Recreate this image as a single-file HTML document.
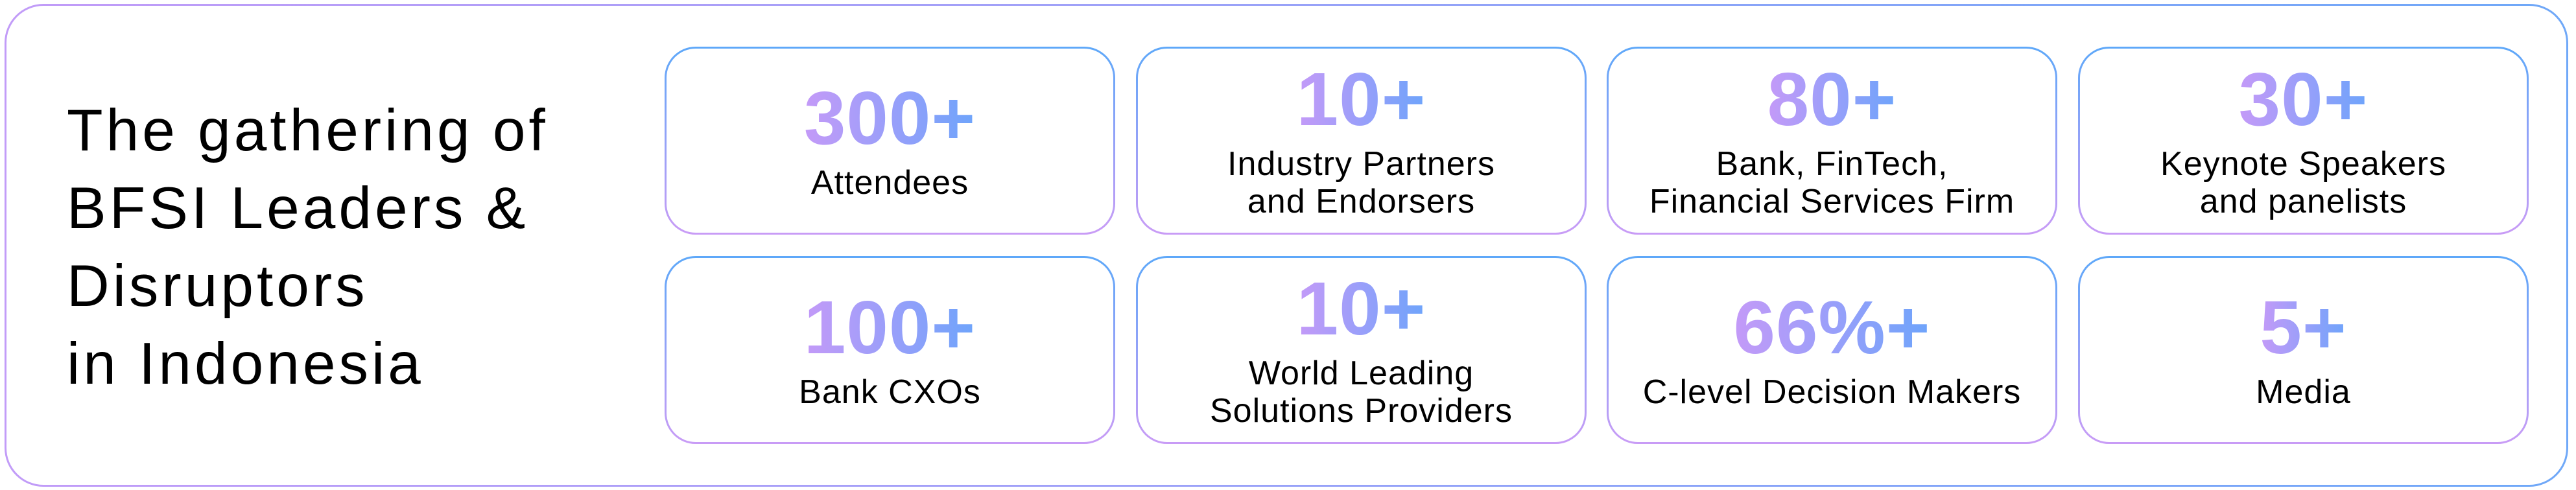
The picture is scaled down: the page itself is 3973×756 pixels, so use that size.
<!DOCTYPE html>
<html><head><meta charset="utf-8"><style>
*{margin:0;padding:0;box-sizing:border-box}
html,body{width:3973px;height:756px;background:#fff;overflow:hidden}
body{position:relative;font-family:"Liberation Sans",sans-serif}
.outer{position:absolute;left:7px;top:6px;width:3954px;height:745px;border-radius:60px;border:3px solid transparent;
background:linear-gradient(#fff,#fff) padding-box,linear-gradient(90deg,#c29cf8,#6fa8f8) border-box}
.title{position:absolute;left:103px;top:142px;font-size:91px;line-height:120px;color:#000;letter-spacing:5px;white-space:nowrap}
.card{position:absolute;width:695px;height:290px;border-radius:48px;border:3px solid transparent;
background:linear-gradient(#fff,#fff) padding-box,linear-gradient(180deg,#5ea8f9,#c99cf6) border-box;
display:flex;flex-direction:column;align-items:center;justify-content:center;text-align:center}
.num{font-weight:bold;font-size:116px;line-height:116px;letter-spacing:1px;
background:linear-gradient(90deg,#c49af8,#6ea4fb);-webkit-background-clip:text;background-clip:text;color:transparent;margin-bottom:13px}
.lab{font-size:52px;line-height:58px;color:#000;letter-spacing:1px;white-space:nowrap}
</style></head><body>
<div class="outer"></div>
<div class="title">The gathering of<br>BFSI Leaders &amp;<br>Disruptors<br>in Indonesia</div>

<div class="card" style="left:1025px;top:72px"><div class="num">300+</div><div class="lab">Attendees</div></div>
<div class="card" style="left:1752px;top:72px"><div class="num">10+</div><div class="lab">Industry Partners<br>and Endorsers</div></div>
<div class="card" style="left:2478px;top:72px"><div class="num">80+</div><div class="lab">Bank, FinTech,<br>Financial Services Firm</div></div>
<div class="card" style="left:3205px;top:72px"><div class="num">30+</div><div class="lab">Keynote Speakers<br>and panelists</div></div>

<div class="card" style="left:1025px;top:395px"><div class="num">100+</div><div class="lab">Bank CXOs</div></div>
<div class="card" style="left:1752px;top:395px"><div class="num">10+</div><div class="lab">World Leading<br>Solutions Providers</div></div>
<div class="card" style="left:2478px;top:395px"><div class="num">66%+</div><div class="lab">C-level Decision Makers</div></div>
<div class="card" style="left:3205px;top:395px"><div class="num">5+</div><div class="lab">Media</div></div>
</body></html>
